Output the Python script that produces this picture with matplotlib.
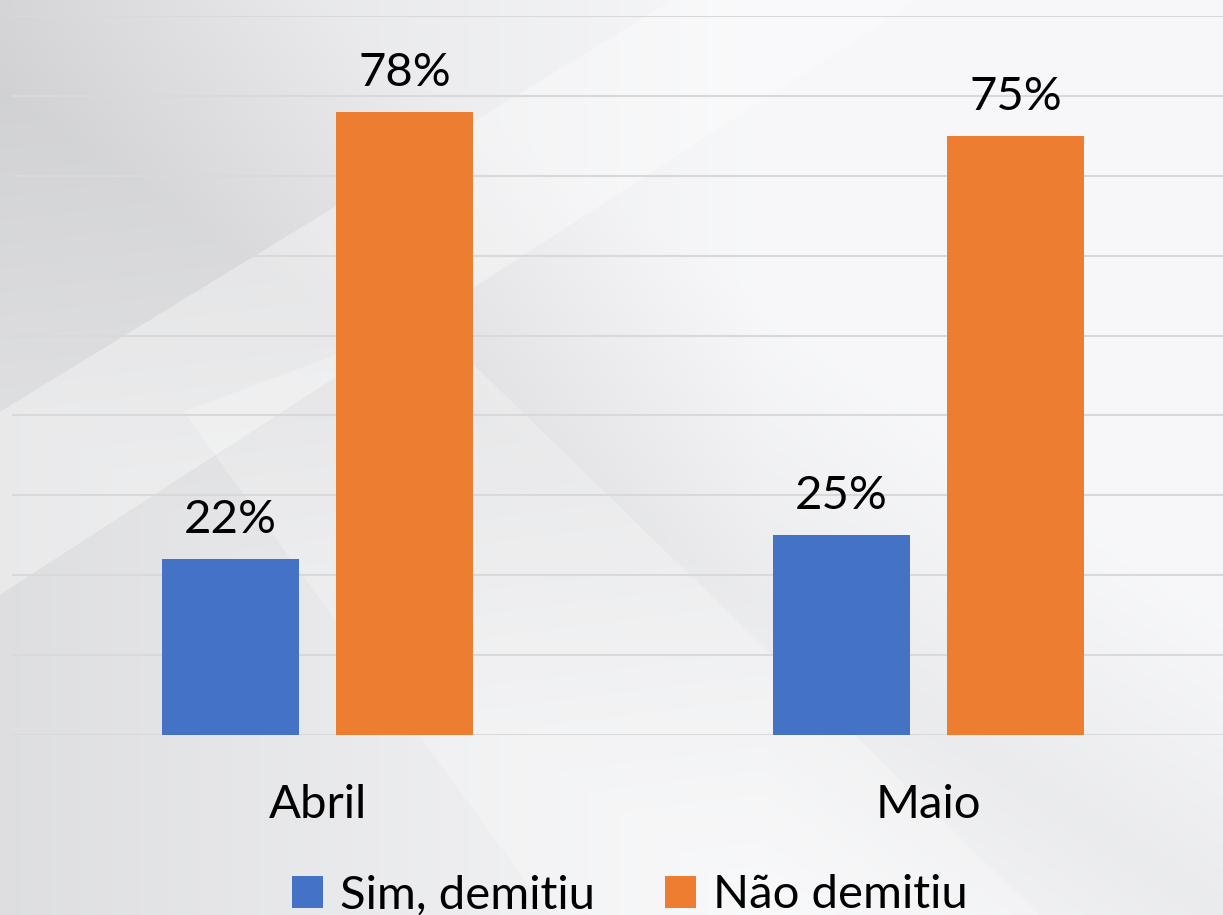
import numpy as np
import matplotlib.pyplot as plt
from matplotlib.patches import Polygon

MONTHS = ['Abril', 'Maio']
SIM_DEMITIU = [22, 25]
NAO_DEMITIU = [78, 75]
SERIES_NAMES = ['Sim, demitiu', 'Não demitiu']

BLUE = '#4472C4'
ORANGE = '#ED7D31'

plt.rcParams['font.family'] = ['Lato', 'DejaVu Sans']

W, H = 1223, 915
fig = plt.figure(figsize=(W / 100, H / 100), dpi=100)

# grey slide-like background
bg = fig.add_axes([0, 0, 1, 1])
bg.set_axis_off()
yy, xx = np.mgrid[0:1:300j, 0:1:400j]
shade = 0.98 - 0.10 * np.clip(1 - xx * 1.6, 0, 1) - 0.05 * np.clip(1 - np.abs(yy - xx * 0.9 - 0.1) * 3, 0, 1)
shade = np.clip(shade, 0.82, 0.99)
bg.imshow(np.dstack([shade - 0.01, shade - 0.008, shade]), extent=[0, 1, 0, 1],
          aspect='auto', interpolation='bicubic', origin='upper')
bg.add_patch(Polygon([[0.0, 0.55], [0.55, 1.0], [0.75, 1.0], [0.0, 0.35]],
                     closed=True, color='white', alpha=0.35, lw=0))
bg.add_patch(Polygon([[0.45, 0.0], [0.85, 0.0], [0.35, 0.65], [0.15, 0.55]],
                     closed=True, color='white', alpha=0.25, lw=0))
bg.set_xlim(0, 1)
bg.set_ylim(0, 1)

# plot area: x from -0.5 at px 12 to 1.5 at px ~1234 (cropped on the right)
left = 12 / W
width = (1234 - 12) / W
bottom = (H - 735) / H
height = (735 - 16) / H
ax = fig.add_axes([left, bottom, width, height])
ax.patch.set_alpha(0)

x = np.arange(len(MONTHS))
bw = 0.223
off = 0.1425
b1 = ax.bar(x - off, SIM_DEMITIU, bw, color=BLUE, label=SERIES_NAMES[0], zorder=3)
b2 = ax.bar(x + off, NAO_DEMITIU, bw, color=ORANGE, label=SERIES_NAMES[1], zorder=3)
for bars in (b1, b2):
    ax.bar_label(bars, labels=[f'{v}%' for v in bars.datavalues], padding=13,
                 fontsize=34, color='black')

ax.set_xlim(-0.5, 1.5)
ax.set_ylim(0, 90)
ax.set_yticks(np.arange(0, 91, 10))
ax.yaxis.grid(True, color='#d9d9d9', lw=1.5, zorder=0)
ax.tick_params(axis='y', left=False, labelleft=False)
ax.tick_params(axis='x', length=0, pad=35, labelsize=34)
ax.set_xticks(x)
ax.set_xticklabels(MONTHS)
for s in ax.spines.values():
    s.set_visible(False)

fig.legend(loc='lower center', bbox_to_anchor=(0.515, -0.048), ncol=2, frameon=False,
           fontsize=34, handlelength=0.65, handleheight=0.65, handletextpad=0.35,
           columnspacing=1.5)

fig.savefig('out.png', dpi=100)
